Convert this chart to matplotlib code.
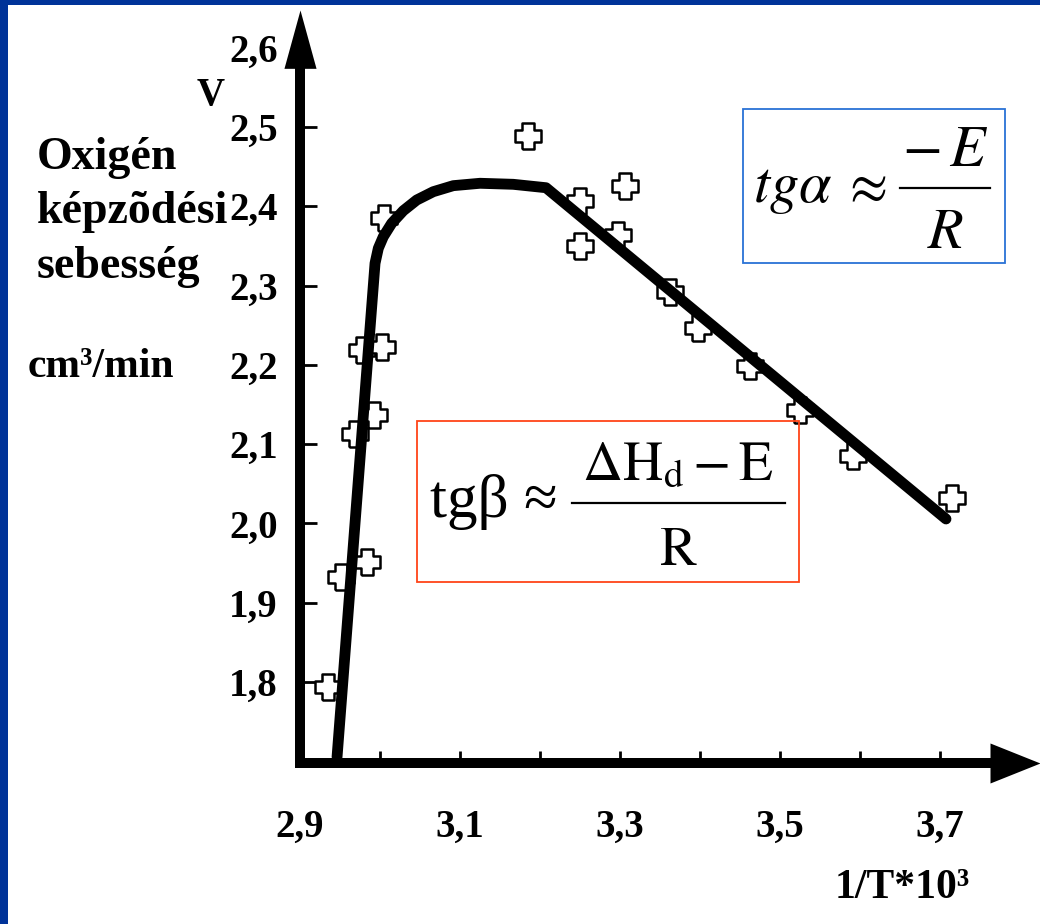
import matplotlib.pyplot as plt
from matplotlib.path import Path
from matplotlib.patches import Rectangle
from matplotlib.lines import Line2D

plt.rcParams['mathtext.fontset'] = 'stix'
SERIF = ['Liberation Serif', 'DejaVu Serif']

# measured points (1/T*10^3, oxygen formation rate)
x_pts = [2.935, 2.951, 2.984, 2.969, 2.9925, 2.9775, 3.0025, 3.005, 3.185, 3.25,
         3.25, 3.306, 3.2975, 3.3625, 3.3975, 3.4625, 3.525, 3.591, 3.715]
y_pts = [1.794, 1.932, 1.951, 2.113, 2.137, 2.219, 2.222, 2.385, 2.489, 2.407,
         2.350, 2.425, 2.364, 2.292, 2.246, 2.198, 2.143, 2.085, 2.032]

# hand drawn fit curve
x_fit = [2.9463, 2.9909, 2.9938, 2.9979, 3.0041, 3.0146, 3.0291, 3.0459, 3.0666,
         3.0916, 3.125, 3.1666, 3.2075, 3.7075]
y_fit = [1.7054, 2.2902, 2.3280, 2.3469, 2.3615, 2.3784, 2.3943, 2.4078, 2.4183,
         2.4259, 2.4289, 2.4276, 2.4233, 2.0056]

x_ticks = [2.9, 3.0, 3.1, 3.2, 3.3, 3.4, 3.5, 3.6, 3.7]
x_labels = ['2,9', '', '3,1', '', '3,3', '', '3,5', '', '3,7']
y_ticks = [1.8, 1.9, 2.0, 2.1, 2.2, 2.3, 2.4, 2.5, 2.6]
y_labels = ['1,8', '1,9', '2,0', '2,1', '2,2', '2,3', '2,4', '2,5', '2,6']

W, H = 1040, 924


def fx(x):
    return x / W


def fy(y):
    return 1 - y / H


fig = plt.figure(figsize=(W / 100, H / 100), dpi=100)
fig.patch.set_facecolor('white')

# blue slide frame
fig.add_artist(Rectangle((0, 0), fx(8), 1, transform=fig.transFigure, color='#003399', lw=0))
fig.add_artist(Rectangle((0, fy(5)), 1, 5 / H, transform=fig.transFigure, color='#003399', lw=0))

ax = fig.add_axes([fx(300), 161 / H, 740 / W, 753 / H])
ax.set_xlim(2.9, 3.825)
ax.set_ylim(1.6979, 2.6474)
ax.patch.set_alpha(0)

for s in ['top', 'right']:
    ax.spines[s].set_visible(False)
for s in ['left', 'bottom']:
    ax.spines[s].set_linewidth(7.2)
    ax.spines[s].set_capstyle('projecting')
ax.spines['left'].set_bounds(1.6979, 2.58)
ax.spines['bottom'].set_bounds(2.9, 3.76)

# arrow heads
yhead = Path([(0, 0), (-0.275, -1), (0.275, -1), (0, 0)])
xhead = Path([(0, 0), (-1, -0.4), (-1, 0.4), (0, 0)])
ax.plot([0], [1], marker=yhead, ms=84, color='black', mew=0, transform=ax.transAxes, clip_on=False)
ax.plot([1], [0], marker=xhead, ms=72, color='black', mew=0, transform=ax.transAxes, clip_on=False)

ax.set_xticks(x_ticks)
ax.set_xticklabels(x_labels, fontsize=28, fontweight='bold', family=SERIF)
ax.set_yticks(y_ticks)
ax.set_yticklabels(y_labels, fontsize=28, fontweight='bold', family=SERIF)
ax.tick_params(axis='y', direction='in', length=12, width=2, pad=16)
ax.tick_params(axis='x', direction='in', length=9, width=2, pad=33)
ax.yaxis.get_major_ticks()[-1].tick1line.set_visible(False)

cross = Path([(-0.24, -0.5), (0.24, -0.5), (0.24, -0.24), (0.5, -0.24), (0.5, 0.24),
              (0.24, 0.24), (0.24, 0.5), (-0.24, 0.5), (-0.24, 0.24), (-0.5, 0.24),
              (-0.5, -0.24), (-0.24, -0.24), (-0.24, -0.5)])
ax.plot(x_pts, y_pts, ls='none', marker=cross, ms=19, mfc='white', mec='black', mew=1.8,
        zorder=3, clip_on=False)
ax.plot(x_fit, y_fit, color='black', lw=7.8, solid_capstyle='round', solid_joinstyle='round',
        zorder=4, clip_on=False)

# axis titles
bold = dict(fontweight='bold', family=SERIF, color='black')
fig.text(fx(197), fy(105), 'V', fontsize=28, va='baseline', **bold)
fig.text(fx(37), fy(169), 'Oxigén', fontsize=33, va='baseline', **bold)
fig.text(fx(37), fy(223), 'képzõdési', fontsize=33, va='baseline', **bold)
fig.text(fx(37), fy(278), 'sebesség', fontsize=33, va='baseline', **bold)
fig.text(fx(28), fy(377), 'cm³/min', fontsize=30, va='baseline', **bold)
fig.text(fx(835), fy(898), '1/T*10³', fontsize=30, va='baseline', **bold)

# formula boxes
fig.add_artist(Rectangle((fx(743), fy(263)), 262 / W, 154 / H, transform=fig.transFigure,
                         fill=False, ec='#2a72d6', lw=1.3))
fig.text(fx(753), fy(202), r'$tg\alpha$', fontsize=42, va='baseline')
fig.text(fx(864), fy(187), r'$\approx$', fontsize=40, va='center', ha='center')
fig.text(fx(945), fy(166), r'$-\,E$', fontsize=42, va='baseline', ha='center')
fig.text(fx(946), fy(248), r'$R$', fontsize=42, va='baseline', ha='center')
fig.add_artist(Line2D([fx(900), fx(990)], [fy(188), fy(188)], transform=fig.transFigure,
                      color='black', lw=1.6))

fig.add_artist(Rectangle((fx(417), fy(582)), 382 / W, 161 / H, transform=fig.transFigure,
                         fill=False, ec='#ff4418', lw=1.3))
fig.text(fx(430), fy(517), 'tgβ ≈', fontsize=44, va='baseline', family=SERIF)
fig.text(fx(678), fy(480), r'$\mathrm{\Delta H_d} - \mathrm{E}$', fontsize=40, va='baseline', ha='center')
fig.text(fx(678), fy(565), r'$\mathrm{R}$', fontsize=40, va='baseline', ha='center')
fig.add_artist(Line2D([fx(572), fx(785)], [fy(503), fy(503)], transform=fig.transFigure,
                      color='black', lw=1.6))

fig.savefig('out.png', dpi=100)
